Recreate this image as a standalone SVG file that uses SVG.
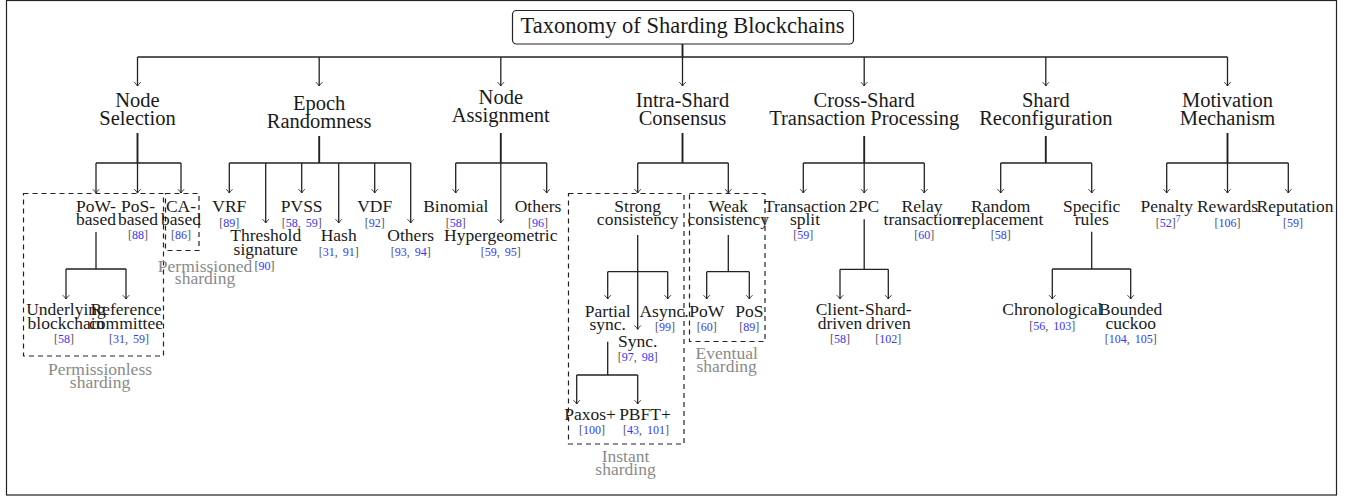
<svg xmlns="http://www.w3.org/2000/svg" width="1365" height="498" viewBox="0 0 1365 498">
<defs>
<marker id="arr" viewBox="-5 -5 6 10" refX="0" refY="0" markerWidth="6" markerHeight="10" markerUnits="userSpaceOnUse" orient="auto">
<path d="M-3.8,-3.2 Q-1.6,-0.9 0,0 Q-1.6,0.9 -3.8,3.2" fill="none" stroke="#222" stroke-width="0.9"/>
</marker>
<style>
text{font-family:"Liberation Serif","Times New Roman",serif;fill:#1a1a1a;text-anchor:middle}
.title{font-size:22.5px}
.cat{font-size:20.5px}
.leaf{font-size:17.5px}
.gray{font-size:17.5px;fill:#8a8a8a}
.cite{font-size:12px;fill:#555}
.n{fill:#3535ff}
.sup{font-size:9.5px}
.ln{fill:none;stroke:#222;stroke-width:1.3}
.bold{stroke-width:1.9}
.ar{fill:none;stroke:#222;stroke-width:1.3;marker-end:url(#arr)}
.dash{fill:none;stroke:#222;stroke-width:1.2;stroke-dasharray:5,4}
</style>
</defs>
<rect x="6.5" y="0.5" width="1330" height="494.5" fill="#fff" stroke="#222" stroke-width="1.2"/>

<g id="connectors">
<path class="ln bold" d="M682.5,44 V57"/>
<path class="ln" d="M137.5,57 H1227.5" stroke-width="1.5"/>
<path class="ar" d="M137.5,57 V86"/>
<path class="ar" d="M319.2,57 V86"/>
<path class="ar" d="M500.8,57 V86"/>
<path class="ar" d="M682.5,57 V86"/>
<path class="ar" d="M864.2,57 V86"/>
<path class="ar" d="M1045.8,57 V86"/>
<path class="ar" d="M1227.5,57 V86"/>

<path class="ln bold" d="M137.5,133 V163"/>
<path class="ln" d="M96,163 H181"/>
<path class="ar" d="M96,163 V193"/>
<path class="ar" d="M137.5,163 V193"/>
<path class="ar" d="M181,163 V193"/>
<path class="ln" d="M96,232 V269 M66,269 H126"/>
<path class="ar" d="M66,269 V299"/>
<path class="ar" d="M126,269 V299"/>

<path class="ln bold" d="M319.2,136 V163"/>
<path class="ln" d="M229.3,163 H410.7"/>
<path class="ar" d="M229.3,163 V193"/>
<path class="ar" d="M265.7,163 V223"/>
<path class="ar" d="M301.7,163 V193"/>
<path class="ar" d="M338.7,163 V223"/>
<path class="ar" d="M374.7,163 V193"/>
<path class="ar" d="M410.7,163 V223"/>

<path class="ln bold" d="M500.8,133 V163"/>
<path class="ln" d="M455.7,163 H546.7"/>
<path class="ar" d="M455.7,163 V193"/>
<path class="ar" d="M500.8,163 V223"/>
<path class="ar" d="M546.7,163 V193"/>

<path class="ln bold" d="M682.5,133 V163"/>
<path class="ln" d="M637.7,163 H728.3"/>
<path class="ar" d="M637.7,163 V193"/>
<path class="ar" d="M728.3,163 V193"/>
<path class="ln" d="M637.7,235 V271.7 M607.7,271.7 H667.7"/>
<path class="ar" d="M607.7,271.7 V299"/>
<path class="ar" d="M637.7,271.7 V329.3"/>
<path class="ar" d="M667.7,271.7 V299"/>
<path class="ln" d="M607.7,341.7 V375 M576.7,375 H637.7"/>
<path class="ar" d="M576.7,375 V404"/>
<path class="ar" d="M637.7,375 V404"/>
<path class="ln" d="M728.3,235 V271.7 M706.7,271.7 H749.3"/>
<path class="ar" d="M706.7,271.7 V299"/>
<path class="ar" d="M749.3,271.7 V299"/>

<path class="ln bold" d="M864.2,136 V163"/>
<path class="ln" d="M803.3,163 H924.3"/>
<path class="ar" d="M803.3,163 V193"/>
<path class="ar" d="M864.2,163 V193"/>
<path class="ar" d="M924.3,163 V193"/>
<path class="ln" d="M864.2,219.3 V269.3 M840,269.3 H888.3"/>
<path class="ar" d="M840,269.3 V299"/>
<path class="ar" d="M888.3,269.3 V299"/>

<path class="ln bold" d="M1045.8,136 V163"/>
<path class="ln" d="M1000.7,163 H1091.7"/>
<path class="ar" d="M1000.7,163 V193"/>
<path class="ar" d="M1091.7,163 V193"/>
<path class="ln" d="M1091.7,231.7 V269 M1052.3,269 H1130.7"/>
<path class="ar" d="M1052.3,269 V299"/>
<path class="ar" d="M1130.7,269 V299"/>

<path class="ln bold" d="M1227.5,133 V163"/>
<path class="ln" d="M1166.7,163 H1288.3"/>
<path class="ar" d="M1166.7,163 V193"/>
<path class="ar" d="M1227.5,163 V193"/>
<path class="ar" d="M1288.3,163 V193"/>
</g>

<g id="groups">
<g id="grp-permissionless"><rect class="dash" x="23.5" y="193.5" width="140" height="162.5"/><text class="gray" x="100" y="375">Permissionless</text><text class="gray" x="100" y="388">sharding</text></g>
<g id="grp-permissioned"><rect class="dash" x="165.5" y="193.5" width="33.5" height="57"/><text class="gray" x="205" y="271.5">Permissioned</text><text class="gray" x="205" y="284">sharding</text></g>
<g id="grp-instant"><rect class="dash" x="568.5" y="193.5" width="115.5" height="250.5"/><text class="gray" x="625.5" y="461.5">Instant</text><text class="gray" x="625.5" y="475">sharding</text></g>
<g id="grp-eventual"><rect class="dash" x="689.5" y="193.5" width="75.5" height="148"/><text class="gray" x="726.7" y="359">Eventual</text><text class="gray" x="726.7" y="372">sharding</text></g>
</g>

<g id="root"><rect x="512.5" y="10.5" width="341" height="33.5" rx="4" fill="#fff" stroke="#222" stroke-width="1.2"/><text class="title" x="682.5" y="33">Taxonomy of Sharding Blockchains</text></g>

<g id="cat-node-selection"><text class="cat" x="137.5" y="107">Node</text><text class="cat" x="137.5" y="125">Selection</text></g>
<g id="cat-epoch-randomness"><text class="cat" x="319.2" y="110">Epoch</text><text class="cat" x="319.2" y="128">Randomness</text></g>
<g id="cat-node-assignment"><text class="cat" x="500.8" y="103.5">Node</text><text class="cat" x="500.8" y="122">Assignment</text></g>
<g id="cat-intra-shard"><text class="cat" x="682.5" y="107">Intra-Shard</text><text class="cat" x="682.5" y="125">Consensus</text></g>
<g id="cat-cross-shard"><text class="cat" x="864.2" y="107">Cross-Shard</text><text class="cat" x="864.2" y="125">Transaction Processing</text></g>
<g id="cat-reconfig"><text class="cat" x="1045.8" y="107">Shard</text><text class="cat" x="1045.8" y="125">Reconfiguration</text></g>
<g id="cat-motivation"><text class="cat" x="1227.5" y="107">Motivation</text><text class="cat" x="1227.5" y="125">Mechanism</text></g>

<g id="pow-based"><text class="leaf" x="96" y="211.5">PoW-</text><text class="leaf" x="96" y="225">based</text></g>
<g id="pos-based"><text class="leaf" x="138" y="211.5">PoS-</text><text class="leaf" x="138" y="225">based</text><text class="cite" x="138" y="239">[<tspan class="n">88</tspan>]</text></g>
<g id="ca-based"><text class="leaf" x="181" y="211.5">CA-</text><text class="leaf" x="181" y="225">based</text><text class="cite" x="181" y="239">[<tspan class="n">86</tspan>]</text></g>
<g id="underlying"><text class="leaf" x="66" y="315">Underlying</text><text class="leaf" x="66" y="328.5">blockchain</text><text class="cite" x="64" y="343">[<tspan class="n">58</tspan>]</text></g>
<g id="reference"><text class="leaf" x="126" y="315">Reference</text><text class="leaf" x="126" y="328.5">committee</text><text class="cite" x="129" y="343">[<tspan class="n">31</tspan>, <tspan class="n" dx="2">59</tspan>]</text></g>

<g id="vrf"><text class="leaf" x="229.3" y="211.5">VRF</text><text class="cite" x="229.3" y="226.5">[<tspan class="n">89</tspan>]</text></g>
<g id="pvss"><text class="leaf" x="301.7" y="211.5">PVSS</text><text class="cite" x="301.7" y="226.5">[<tspan class="n">58</tspan>, <tspan class="n" dx="2">59</tspan>]</text></g>
<g id="vdf"><text class="leaf" x="374.7" y="211.5">VDF</text><text class="cite" x="374.7" y="226.5">[<tspan class="n">92</tspan>]</text></g>
<g id="threshold"><text class="leaf" x="265.7" y="241">Threshold</text><text class="leaf" x="265.7" y="254.5">signature</text><text class="cite" x="264.5" y="269.5">[<tspan class="n">90</tspan>]</text></g>
<g id="hash"><text class="leaf" x="338.7" y="241">Hash</text><text class="cite" x="338.7" y="256">[<tspan class="n">31</tspan>, <tspan class="n" dx="2">91</tspan>]</text></g>
<g id="others-epoch"><text class="leaf" x="410.7" y="241">Others</text><text class="cite" x="410.7" y="256">[<tspan class="n">93</tspan>, <tspan class="n" dx="2">94</tspan>]</text></g>

<g id="binomial"><text class="leaf" x="455.7" y="211.5">Binomial</text><text class="cite" x="455.7" y="226.5">[<tspan class="n">58</tspan>]</text></g>
<g id="others-assign"><text class="leaf" x="538" y="211.5">Others</text><text class="cite" x="538" y="226.5">[<tspan class="n">96</tspan>]</text></g>
<g id="hypergeometric"><text class="leaf" x="500.8" y="241">Hypergeometric</text><text class="cite" x="500.8" y="256">[<tspan class="n">59</tspan>, <tspan class="n" dx="2">95</tspan>]</text></g>

<g id="strong"><text class="leaf" x="637.7" y="211.5">Strong</text><text class="leaf" x="637.7" y="225">consistency</text></g>
<g id="weak"><text class="leaf" x="728.3" y="211.5">Weak</text><text class="leaf" x="728.3" y="225">consistency</text></g>
<g id="partial-sync"><text class="leaf" x="607.7" y="316.5">Partial</text><text class="leaf" x="607.7" y="330">sync.</text></g>
<g id="async"><text class="leaf" x="664" y="316.5">Async.</text><text class="cite" x="665" y="330.5">[<tspan class="n">99</tspan>]</text></g>
<g id="sync"><text class="leaf" x="637.7" y="346.5">Sync.</text><text class="cite" x="637.7" y="360.5">[<tspan class="n">97</tspan>, <tspan class="n" dx="2">98</tspan>]</text></g>
<g id="paxos"><text class="leaf" x="590" y="420">Paxos+</text><text class="cite" x="592" y="433.5">[<tspan class="n">100</tspan>]</text></g>
<g id="pbft"><text class="leaf" x="645" y="420">PBFT+</text><text class="cite" x="646" y="433.5">[<tspan class="n">43</tspan>, <tspan class="n" dx="2">101</tspan>]</text></g>
<g id="pow-weak"><text class="leaf" x="706.7" y="316.5">PoW</text><text class="cite" x="706.7" y="330.5">[<tspan class="n">60</tspan>]</text></g>
<g id="pos-weak"><text class="leaf" x="749.3" y="316.5">PoS</text><text class="cite" x="749.3" y="330.5">[<tspan class="n">89</tspan>]</text></g>

<g id="tx-split"><text class="leaf" x="805" y="211.5">Transaction</text><text class="leaf" x="805" y="225">split</text><text class="cite" x="803.3" y="238.5">[<tspan class="n">59</tspan>]</text></g>
<g id="twopc"><text class="leaf" x="864.2" y="211.5">2PC</text></g>
<g id="relay"><text class="leaf" x="922" y="211.5">Relay</text><text class="leaf" x="922" y="225">transaction</text><text class="cite" x="924.3" y="238.5">[<tspan class="n">60</tspan>]</text></g>
<g id="client-driven"><text class="leaf" x="840" y="315">Client-</text><text class="leaf" x="840" y="328.5">driven</text><text class="cite" x="840" y="343">[<tspan class="n">58</tspan>]</text></g>
<g id="shard-driven"><text class="leaf" x="888.3" y="315">Shard-</text><text class="leaf" x="888.3" y="328.5">driven</text><text class="cite" x="888.3" y="343">[<tspan class="n">102</tspan>]</text></g>

<g id="random-replacement"><text class="leaf" x="1000.7" y="211.5">Random</text><text class="leaf" x="1000.7" y="225">replacement</text><text class="cite" x="1000.7" y="238.5">[<tspan class="n">58</tspan>]</text></g>
<g id="specific-rules"><text class="leaf" x="1091.7" y="211.5">Specific</text><text class="leaf" x="1091.7" y="225">rules</text></g>
<g id="chronological"><text class="leaf" x="1052.3" y="315">Chronological</text><text class="cite" x="1052.3" y="330">[<tspan class="n">56</tspan>, <tspan class="n" dx="2">103</tspan>]</text></g>
<g id="bounded-cuckoo"><text class="leaf" x="1130.7" y="315">Bounded</text><text class="leaf" x="1130.7" y="328.5">cuckoo</text><text class="cite" x="1130.7" y="343">[<tspan class="n">104</tspan>, <tspan class="n" dx="2">105</tspan>]</text></g>

<g id="penalty"><text class="leaf" x="1166.7" y="211.5">Penalty</text><text class="cite" x="1168" y="226.5">[<tspan class="n">52</tspan>]<tspan class="n sup" dy="-4.5">7</tspan></text></g>
<g id="rewards"><text class="leaf" x="1227.5" y="211.5">Rewards</text><text class="cite" x="1227.5" y="226.5">[<tspan class="n">106</tspan>]</text></g>
<g id="reputation"><text class="leaf" x="1295" y="211.5">Reputation</text><text class="cite" x="1293" y="226.5">[<tspan class="n">59</tspan>]</text></g>
</svg>
